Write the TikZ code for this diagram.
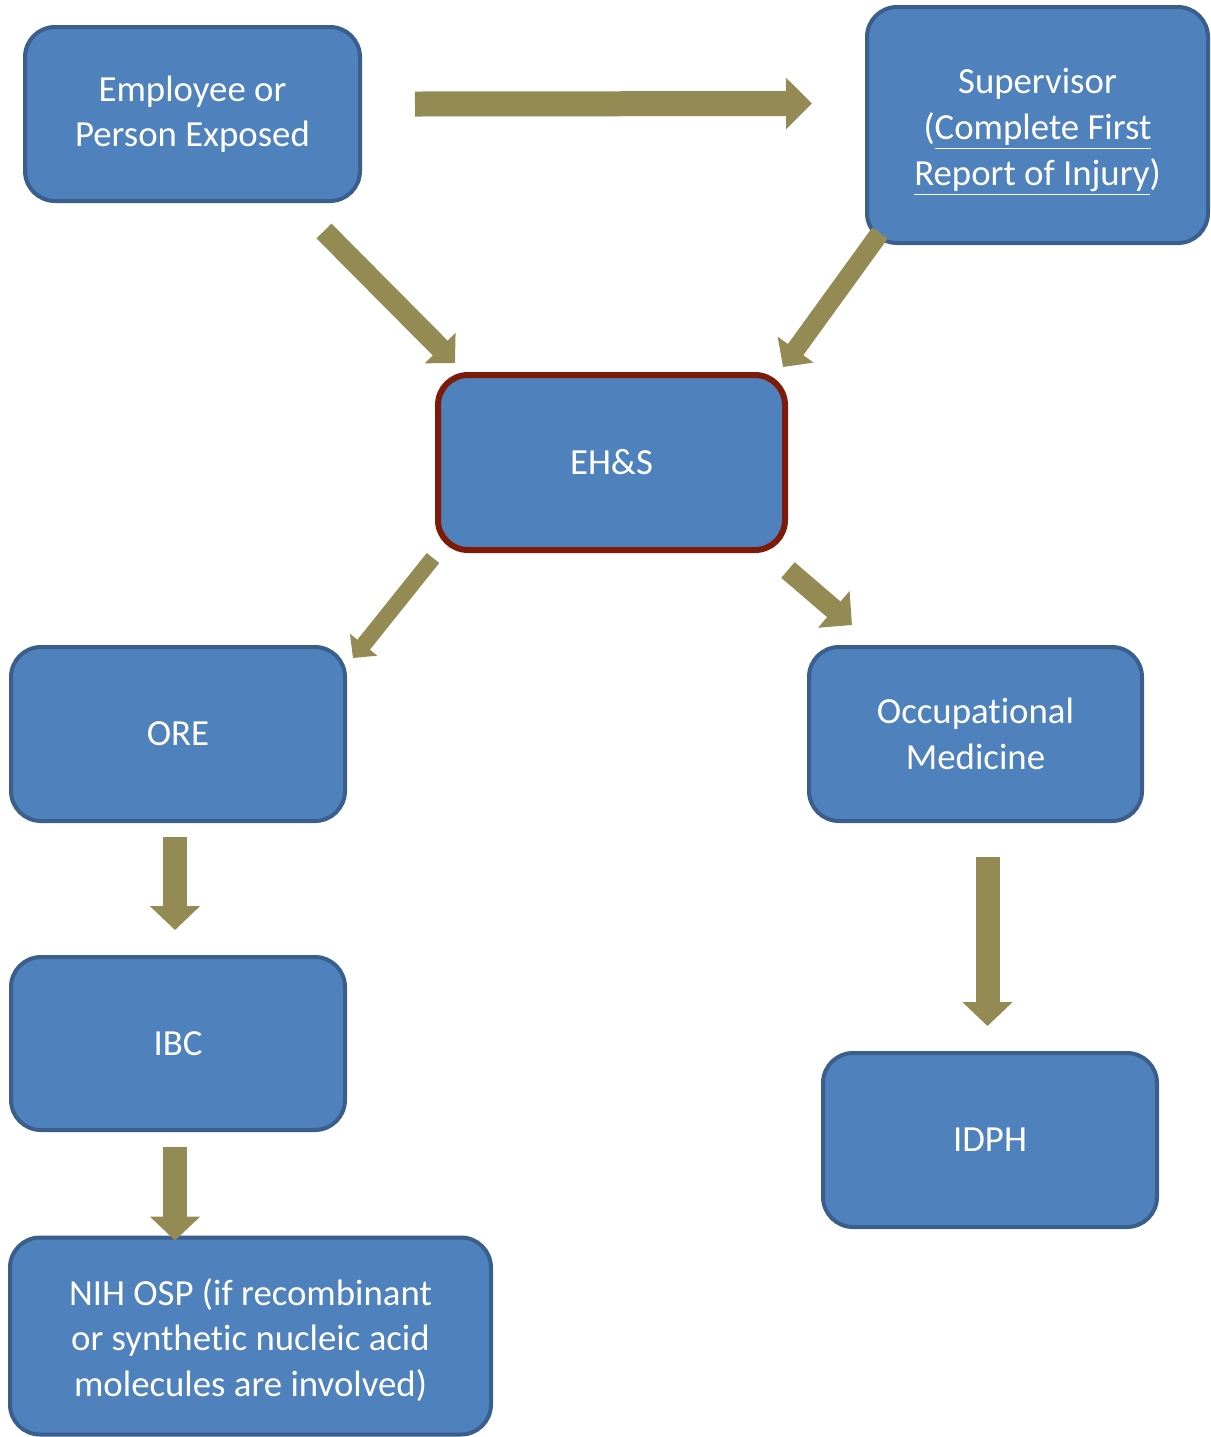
\documentclass[tikz,border=0pt]{standalone}
\usepackage{fontspec}
\setmainfont{Carlito}[Ligatures=CommonOff]
\usetikzlibrary{arrows.meta,calc}
\definecolor{boxfill}{HTML}{4F81BD}
\definecolor{boxline}{HTML}{3A5F8C}
\definecolor{olive}{HTML}{948A54}
\definecolor{ehsline}{HTML}{7E1A08}
\newcommand\myul[1]{\underline{\smash{#1}\vphantom{gjy}}}
\tikzset{
  boxtext/.style={text=white, align=center, inner sep=0pt,
    font=\fontsize{18.4}{22.8}\selectfont},
  box/.style={boxtext, draw=boxline, fill=boxfill, line width=2pt, rounded corners=15pt},
  flow/.style={draw=olive, line cap=butt},
}
\begin{document}
\begin{tikzpicture}[x=0.5pt,y=-0.5pt]
\useasboundingbox (0,0) rectangle (1211,1437);
% nodes
\node[box, minimum width=167.5pt, minimum height=87pt] (emp) at (192.5,114) {Employee or\\Person Exposed};
\node[box, minimum width=170.5pt, minimum height=118pt] (sup) at (1037.5,125) {};
\node[boxtext] (suptext) at ([yshift=-3.5pt]sup.center) {Supervisor\\(\myul{Complete First}\\\myul{Report of Injury})};
\node[box, draw=ehsline, line width=3pt, minimum width=173.5pt, minimum height=87.5pt] (ehs) at (611.5,462.5) {EH\&S};
\node[box, minimum width=167pt, minimum height=87pt] (ore) at (178,734) {ORE};
\node[box, minimum width=166.5pt, minimum height=87pt] (occ) at (975.5,734) {Occupational\\Medicine};
\node[box, minimum width=167pt, minimum height=86.5pt] (ibc) at (178,1043.5) {IBC};
\node[box, minimum width=167pt, minimum height=87pt] (idph) at (990,1140) {IDPH};
\node[box, minimum width=240.5pt, minimum height=98.5pt] (nih) at (250.5,1336) {};
\node[boxtext] (nihtext) at ([yshift=-2pt]nih.center) {NIH OSP (if recombinant\\or synthetic nucleic acid\\molecules are involved)};
% connectors
\draw[flow, line width=12.5pt, -{Triangle[length=13pt,width=25pt]}]
  ([shift={(53,-10)}]emp.east) -- ([shift={(-53,-21.5)}]sup.west);
\draw[flow, line width=10.5pt, -{Triangle[length=10.5pt,width=21pt]}]
  ([shift={(-38,28)}]emp.south east) -- ([shift={(20,-9)}]ehs.north west);
\draw[flow, line width=9.5pt, -{Triangle[length=10.75pt,width=21.5pt]}]
  ([shift={(15,-12)}]sup.south west) -- ([shift={(-5,-5)}]ehs.north east);
\draw[flow, line width=8pt, -{Triangle[length=8.5pt,width=17pt]}]
  ([shift={(-2,5)}]ehs.south west) -- ([shift={(6,13)}]ore.north east);
\draw[flow, line width=10.3pt, -{Triangle[length=12pt,width=23.5pt]}]
  ([shift={(0,17)}]ehs.south east) -- ([shift={(45,-20)}]occ.north west);
\draw[flow, line width=12pt, -{Triangle[length=12pt,width=24.5pt]}]
  ([shift={(-3,14)}]ore.south) -- ([shift={(-3,-25)}]ibc.north);
\draw[flow, line width=12pt, -{Triangle[length=12pt,width=24.5pt]}]
  ([shift={(12,34)}]occ.south) -- ([shift={(-2.5,-25)}]idph.north);
\draw[flow, line width=12pt, -{Triangle[length=12pt,width=24.5pt]}]
  ([shift={(-3,15)}]ibc.south) -- ([shift={(-75.5,5)}]nih.north);
\end{tikzpicture}
\end{document}
